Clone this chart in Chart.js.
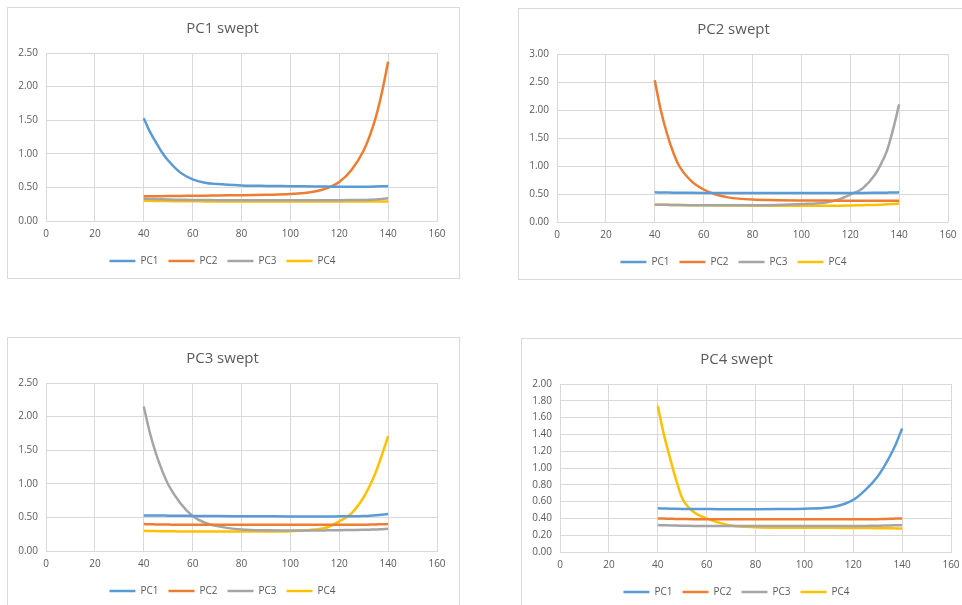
<!DOCTYPE html>
<html>
<head>
<meta charset="utf-8">
<script src="https://cdn.jsdelivr.net/npm/chart.js@4.4.0/dist/chart.umd.min.js"></script>
<style>
  html, body { margin: 0; padding: 0; background: #fff; overflow: hidden; }
  body { width: 962px; height: 605px; position: relative; }
  .panel { position: absolute; border: 1px solid #d9d9d9; background: #fff; }
  .panel canvas { display: block; }
</style>
</head>
<body>
<div class="panel" style="left:7px;top:7px"><canvas id="c1" width="451" height="270"></canvas></div>
<div class="panel" style="left:518px;top:8px"><canvas id="c2" width="451" height="270"></canvas></div>
<div class="panel" style="left:7px;top:337px"><canvas id="c3" width="451" height="270"></canvas></div>
<div class="panel" style="left:521px;top:338px"><canvas id="c4" width="451" height="270"></canvas></div>
<script>
// sweep positions (x axis), denser where the curves turn sharply
const xValues = [40, 42.5, 45, 47.5, 50, 55, 60, 65, 70, 80, 90, 100, 110, 115, 120, 125, 130, 132.5, 135, 137.5, 140];
const seriesNames = ['PC1', 'PC2', 'PC3', 'PC4'];
const seriesColors = ['#5B9BD5', '#ED7D31', '#A5A5A5', '#FFC000'];

// PC1 swept
const pc1SweptPC1 = [1.53, 1.33, 1.17, 1.02, 0.90, 0.72, 0.62, 0.57, 0.55, 0.53, 0.522, 0.518, 0.514, 0.512, 0.51, 0.51, 0.51, 0.511, 0.513, 0.516, 0.52];
const pc1SweptPC2 = [0.37, 0.37, 0.37, 0.37, 0.371, 0.373, 0.375, 0.377, 0.38, 0.384, 0.39, 0.40, 0.44, 0.49, 0.58, 0.76, 1.05, 1.27, 1.55, 1.92, 2.37];
const pc1SweptPC3 = [0.33, 0.328, 0.325, 0.322, 0.32, 0.317, 0.314, 0.312, 0.31, 0.31, 0.31, 0.31, 0.31, 0.31, 0.31, 0.311, 0.313, 0.316, 0.32, 0.328, 0.34];
const pc1SweptPC4 = [0.30, 0.30, 0.298, 0.297, 0.296, 0.294, 0.293, 0.292, 0.291, 0.29, 0.29, 0.29, 0.29, 0.29, 0.29, 0.29, 0.29, 0.29, 0.29, 0.29, 0.29];

// PC2 swept
const pc2SweptPC1 = [0.53, 0.528, 0.526, 0.524, 0.523, 0.521, 0.52, 0.52, 0.52, 0.52, 0.52, 0.52, 0.52, 0.52, 0.52, 0.52, 0.521, 0.522, 0.524, 0.526, 0.53];
const pc2SweptPC2 = [2.53, 1.99, 1.58, 1.25, 1.00, 0.73, 0.58, 0.49, 0.44, 0.40, 0.39, 0.385, 0.382, 0.381, 0.38, 0.38, 0.38, 0.38, 0.38, 0.38, 0.38];
const pc2SweptPC3 = [0.31, 0.308, 0.306, 0.304, 0.302, 0.30, 0.30, 0.30, 0.30, 0.30, 0.305, 0.32, 0.35, 0.40, 0.49, 0.60, 0.84, 1.03, 1.27, 1.65, 2.10];
const pc2SweptPC4 = [0.31, 0.308, 0.306, 0.304, 0.302, 0.30, 0.298, 0.296, 0.294, 0.292, 0.29, 0.29, 0.29, 0.292, 0.295, 0.30, 0.305, 0.31, 0.315, 0.32, 0.33];

// PC3 swept
const pc3SweptPC1 = [0.53, 0.529, 0.528, 0.527, 0.526, 0.524, 0.522, 0.52, 0.52, 0.518, 0.516, 0.514, 0.513, 0.514, 0.516, 0.518, 0.522, 0.526, 0.532, 0.54, 0.55];
const pc3SweptPC2 = [0.40, 0.398, 0.396, 0.394, 0.393, 0.391, 0.39, 0.39, 0.39, 0.39, 0.39, 0.39, 0.39, 0.39, 0.39, 0.39, 0.391, 0.393, 0.395, 0.398, 0.40];
const pc3SweptPC3 = [2.15, 1.76, 1.45, 1.20, 0.99, 0.71, 0.52, 0.42, 0.37, 0.32, 0.307, 0.305, 0.305, 0.307, 0.31, 0.313, 0.316, 0.318, 0.32, 0.325, 0.33];
const pc3SweptPC4 = [0.30, 0.298, 0.296, 0.294, 0.293, 0.291, 0.29, 0.29, 0.29, 0.29, 0.29, 0.295, 0.32, 0.35, 0.44, 0.56, 0.80, 0.97, 1.18, 1.43, 1.71];

// PC4 swept
const pc4SweptPC1 = [0.52, 0.518, 0.516, 0.514, 0.513, 0.512, 0.511, 0.51, 0.51, 0.51, 0.512, 0.516, 0.53, 0.56, 0.62, 0.74, 0.90, 1.01, 1.14, 1.29, 1.47];
const pc4SweptPC2 = [0.40, 0.398, 0.396, 0.394, 0.393, 0.391, 0.39, 0.39, 0.39, 0.39, 0.39, 0.39, 0.39, 0.39, 0.39, 0.39, 0.391, 0.393, 0.395, 0.398, 0.40];
const pc4SweptPC3 = [0.32, 0.318, 0.316, 0.314, 0.313, 0.311, 0.31, 0.31, 0.31, 0.31, 0.31, 0.31, 0.31, 0.31, 0.31, 0.311, 0.312, 0.314, 0.316, 0.318, 0.32];
const pc4SweptPC4 = [1.74, 1.40, 1.12, 0.86, 0.64, 0.47, 0.40, 0.35, 0.315, 0.295, 0.29, 0.29, 0.288, 0.287, 0.286, 0.285, 0.284, 0.283, 0.282, 0.281, 0.28];

const panelTitles = ['PC1 swept', 'PC2 swept', 'PC3 swept', 'PC4 swept'];
const panelYMax = [2.5, 3.0, 2.5, 2.0];
const panelYStep = [0.5, 0.5, 0.5, 0.2];
const panelSeries = [
    [pc1SweptPC1, pc1SweptPC2, pc1SweptPC3, pc1SweptPC4],
    [pc2SweptPC1, pc2SweptPC2, pc2SweptPC3, pc2SweptPC4],
    [pc3SweptPC1, pc3SweptPC2, pc3SweptPC3, pc3SweptPC4],
    [pc4SweptPC1, pc4SweptPC2, pc4SweptPC3, pc4SweptPC4],
];

const textColor = '#595959';
const gridColor = '#d9d9d9';
const fontFamily = '"Open Sans", "Liberation Sans", sans-serif';

function makeChart(canvasId, idx) {
    const datasets = seriesNames.map((name, i) => ({
        label: name,
        data: xValues.map((x, j) => ({ x: x, y: panelSeries[idx][i][j] })),
        borderColor: seriesColors[i],
        backgroundColor: seriesColors[i],
        borderWidth: 2.5,
        pointRadius: 0,
        cubicInterpolationMode: 'monotone',
        fill: false,
    }));

    new Chart(document.getElementById(canvasId), {
        type: 'line',
        data: { datasets },
        options: {
            responsive: false,
            animation: false,
            layout: { padding: { top: 0, left: 0, right: 22, bottom: 2 } },
            plugins: {
                title: {
                    display: true,
                    text: panelTitles[idx],
                    color: textColor,
                    font: { family: fontFamily, size: 15, weight: 'normal' },
                    padding: { top: 12, bottom: 15 },
                },
                legend: {
                    position: 'bottom',
                    labels: {
                        color: textColor,
                        font: { family: fontFamily, size: 10 },
                        usePointStyle: true,
                        pointStyle: 'line',
                        pointStyleWidth: 26,
                        boxHeight: 10,
                        padding: 10,
                    },
                },
                tooltip: { enabled: false },
            },
            scales: {
                x: {
                    type: 'linear',
                    min: 0,
                    max: 160,
                    ticks: { stepSize: 20, color: textColor, font: { family: fontFamily, size: 10 }, padding: 7 },
                    grid: { color: gridColor, drawTicks: false },
                    border: { color: gridColor },
                    afterFit: (s) => { s.height = 25; },
                },
                y: {
                    min: 0,
                    max: panelYMax[idx],
                    ticks: {
                        stepSize: panelYStep[idx],
                        color: textColor,
                        font: { family: fontFamily, size: 10 },
                        padding: 8,
                        callback: (v) => v.toFixed(2),
                    },
                    grid: { color: gridColor, drawTicks: false },
                    border: { color: gridColor },
                    afterFit: (s) => { s.width = 38; },
                },
            },
        },
    });
}

makeChart('c1', 0);
makeChart('c2', 1);
makeChart('c3', 2);
makeChart('c4', 3);
</script>
</body>
</html>
